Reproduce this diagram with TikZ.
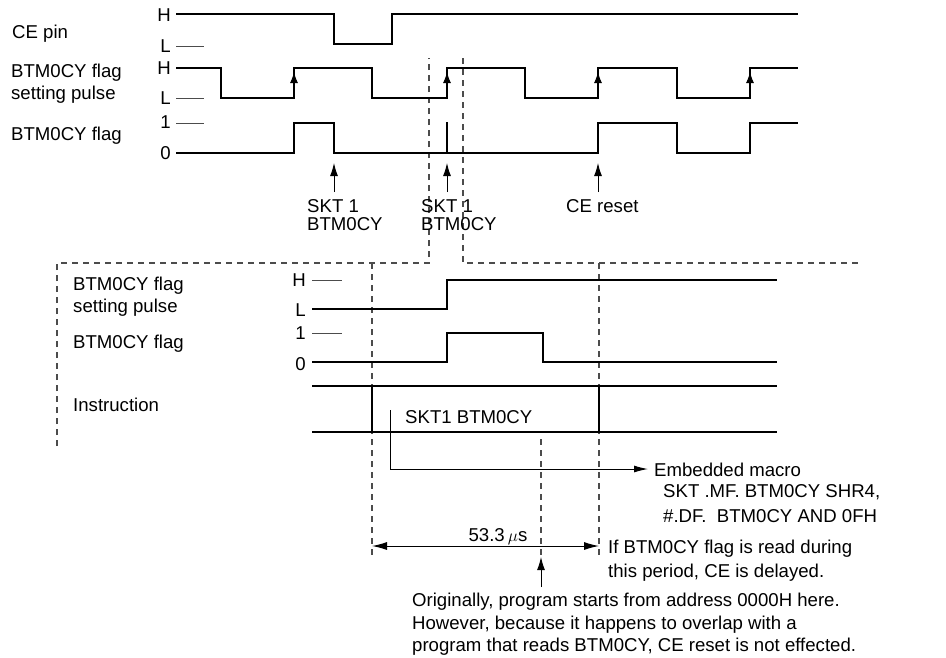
\documentclass[tikz,border=0pt]{standalone}
\usepackage{fontspec}
\setmainfont{Liberation Sans}
\usetikzlibrary{arrows.meta}
\begin{document}
\begin{tikzpicture}[x=1pt,y=-1pt,
  font=\fontsize{18.6}{20}\selectfont,
  sig/.style={line width=2pt, line join=miter},
  tickline/.style={line width=1pt, black!70},
  dsh/.style={line width=1.2pt, black!70, dash pattern=on 6pt off 5pt},
  txt/.style={inner sep=0pt, anchor=base west},
  lvl/.style={inner sep=0pt, anchor=base east},
  arr/.style={line width=1pt, -{Latex[length=13pt,width=8pt]}},
  edgearr/.style={line width=1pt, -{Latex[length=11pt,width=8pt]}},
]
\useasboundingbox (0,0) rectangle (946,657);

% dashed frame and guides (drawn first, beneath the signals)
\draw[dsh] (57,446) -- (57,263) -- (429,263) -- (429,58);
\draw[dsh] (463,58) -- (463,263) -- (860,263);
\draw[dsh] (372,263) -- (372,557);
\draw[dsh] (599,263) -- (599,557);
\draw[dsh] (541,439) -- (541,557);

% ---------- top section ----------
\node[txt] (cepin) at (12,38) {CE pin};
\node[lvl] (ceH) at (171,21) {H};
\node[lvl] (ceL) at (171,52) {L};
\draw[tickline] (176,46) -- (204,46);
\draw[sig] (176,14) -- (334,14) -- (334,44) -- (392,44) -- (392,14) -- (798,14);

\node[txt] (pl1) at (11,77) {BTM0CY flag};
\node[txt] (pl2) at (11,99) {setting pulse};
\node[lvl] (pH) at (171,74) {H};
\node[lvl] (pL) at (171,104) {L};
\draw[tickline] (176,98) -- (204,98);
\draw[sig] (176,68) -- (221,68) -- (221,98) -- (294,98) -- (294,68) -- (372,68)
  -- (372,98) -- (447,98) -- (447,68) -- (525,68) -- (525,98) -- (598,98)
  -- (598,68) -- (677,68) -- (677,98) -- (750,98) -- (750,68) -- (798,68);
\foreach \xx in {294,447,598,750}{
  \draw[edgearr] (\xx,92) -- (\xx,72);
}

\node[txt] (fl) at (11,140) {BTM0CY flag};
\node[lvl] (f1) at (171,128) {1};
\node[lvl] (f0) at (171,159) {0};
\draw[tickline] (176,123) -- (204,123);
\draw[sig] (176,153) -- (294,153) -- (294,123) -- (334,123) -- (334,153)
  -- (598,153) -- (598,123) -- (677,123) -- (677,153) -- (750,153) -- (750,123) -- (798,123);
\draw[sig] (447,153) -- (447,122);

% labels with arrows
\node[txt] (s1a) at (307,212) {SKT 1};
\node[txt] (s1b) at (307,230) {BTM0CY};
\coordinate (s1t) at (334,163);
\draw[arr] (334,192) -- (s1t);
\node[txt] (s2a) at (421,212) {SKT 1};
\node[txt] (s2b) at (421,230) {BTM0CY};
\coordinate (s2t) at (447,163);
\draw[arr] (447,192) -- (s2t);
\node[txt] (cer) at (566,212) {CE reset};
\coordinate (cet) at (598,163);
\draw[arr] (598,192) -- (cet);

% ---------- bottom section ----------
\node[txt] (bl1) at (73,290) {BTM0CY flag};
\node[txt] (bl2) at (73,312) {setting pulse};
\node[lvl] (bH) at (306,286) {H};
\node[lvl] (bL) at (306,316) {L};
\draw[tickline] (312,280) -- (342,280);
\draw[sig] (312,309) -- (447,309) -- (447,280) -- (777,280);

\node[txt] (bfl) at (73,348) {BTM0CY flag};
\node[lvl] (b1) at (306,339) {1};
\node[lvl] (b0) at (306,370) {0};
\draw[tickline] (312,333) -- (342,333);
\draw[sig] (312,362) -- (447,362) -- (447,333) -- (543,333) -- (543,362) -- (777,362);

\node[txt] (ins) at (73,411) {Instruction};
\draw[sig] (312,386) -- (777,386);
\draw[sig] (312,432) -- (777,432);
\draw[sig] (372,386) -- (372,432);
\draw[sig] (599,386) -- (599,432);
\node[txt] (skt) at (405,423) {SKT1 BTM0CY};

% embedded macro
\node[txt] (em1) at (654,476) {Embedded macro};
\node[txt] (em2) at (663,497) {SKT .MF. BTM0CY SHR4,};
\node[txt] (em3) at (663,522) {\#.DF.\ \ BTM0CY AND 0FH};
\coordinate (emS) at (390,410);
\draw[line width=1pt, -{Latex[length=14pt,width=7pt]}] (emS) |- ([xshift=-6pt]em1.west |- 0,469);

% dimension
\coordinate (dL) at (372,546);
\coordinate (dR) at (599,546);
\draw[line width=1pt, {Latex[length=15pt,width=8pt]}-{Latex[length=15pt,width=8pt]}] (dL) -- (dR);
\node[inner sep=0pt, anchor=base] (dim) at (498,541) {53.3\,$\mu$s};

\node[txt] (if1) at (608,553) {If BTM0CY flag is read during};
\node[txt] (if2) at (608,577) {this period, CE is delayed.};

% originally note
\node[txt] (or1) at (412,606) {Originally, program starts from address 0000H here.};
\node[txt] (or2) at (412,629) {However, because it happens to overlap with a};
\node[txt] (or3) at (412,651) {program that reads BTM0CY, CE reset is not effected.};
\coordinate (ort) at (541,557);
\draw[arr] (541,587) -- (ort);
\end{tikzpicture}
\end{document}
